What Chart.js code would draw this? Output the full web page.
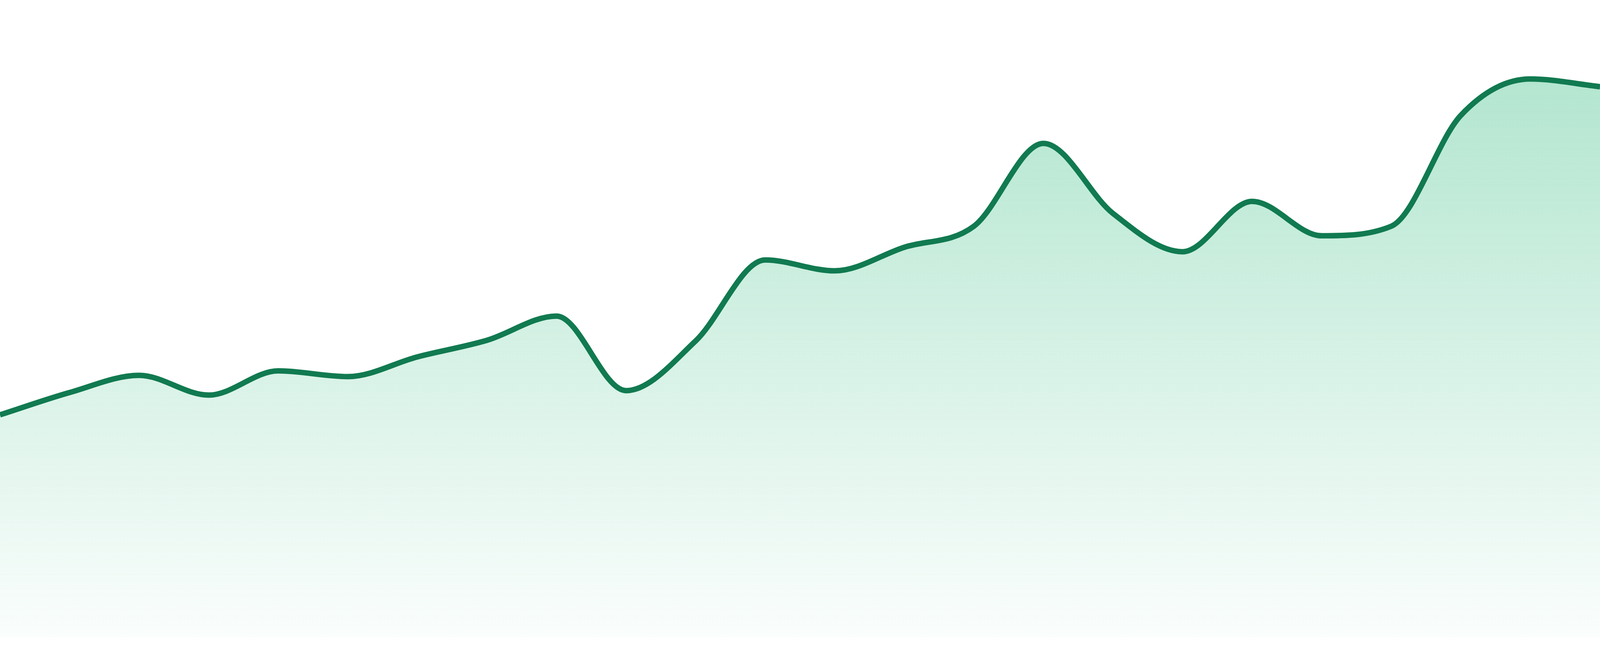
<!DOCTYPE html>
<html>
<head>
<meta charset="utf-8">
<title>Trend</title>
<script src="https://cdn.jsdelivr.net/npm/chart.js@4.4.1/dist/chart.umd.min.js"></script>
<style>
    html, body { margin: 0; padding: 0; background: #ffffff; overflow: hidden; }
    #wrap { width: 100vw; height: 100vh; position: relative; }
</style>
</head>
<body>
<div id="wrap"><canvas id="trendChart"></canvas></div>
<script>
// Data (24 evenly spaced points)
const labels = ['1', '2', '3', '4', '5', '6', '7', '8', '9', '10', '11', '12',
                '13', '14', '15', '16', '17', '18', '19', '20', '21', '22', '23', '24'];
const values = [34.9, 38.4, 41.1, 38.0, 41.8, 40.9, 44.0, 46.6, 50.4, 38.7, 46.5, 59.2,
                57.5, 61.2, 64.5, 77.5, 66.5, 60.5, 68.4, 63.0, 64.5, 81.9, 87.6, 86.4];
const yMin = 0;
const yMax = 100;

let trendChart;

function makeGradient(context) {
    const chart = context.chart;
    const area = chart.chartArea;
    if (!area) return 'rgba(16, 176, 107, 0.2)';
    const g = chart.ctx.createLinearGradient(0, area.top, 0, area.bottom);
    g.addColorStop(0, 'rgba(16, 176, 107, 0.36)');
    g.addColorStop(1, 'rgba(16, 176, 107, 0.02)');
    return g;
}

const ctx = document.getElementById('trendChart').getContext('2d');

trendChart = new Chart(ctx, {
    type: 'line',
    data: {
        labels: labels,
        datasets: [{
            data: values,
            borderColor: '#117a50',
            borderWidth: 14,
            backgroundColor: makeGradient,
            fill: 'start',
            pointRadius: 0,
            cubicInterpolationMode: 'monotone'
        }]
    },
    options: {
        responsive: true,
        maintainAspectRatio: false,
        animation: false,
        layout: { padding: { left: 0, right: 0, top: 0, bottom: 48 * window.innerHeight / 1680 } },
        plugins: {
            legend: { display: false },
            tooltip: { enabled: false }
        },
        scales: {
            x: { display: false, offset: false },
            y: { display: false, min: yMin, max: yMax }
        }
    }
});
</script>
</body>
</html>
